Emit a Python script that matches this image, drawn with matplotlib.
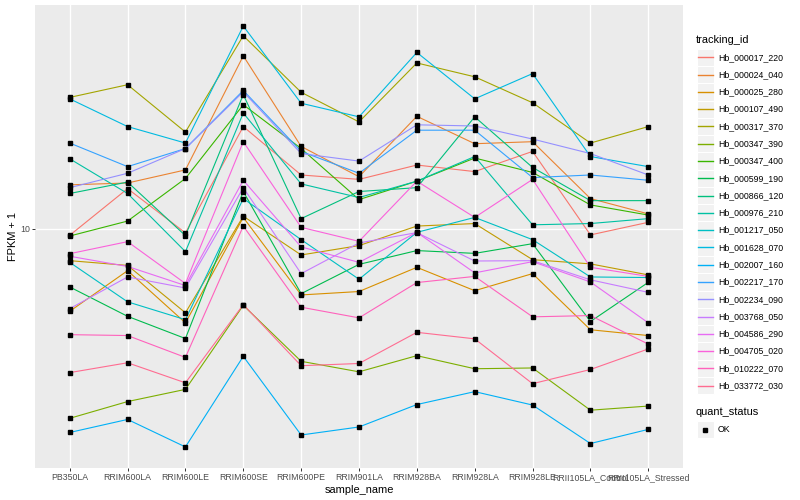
import matplotlib.pyplot as plt
from matplotlib.patches import Rectangle
from matplotlib.ticker import FixedLocator, NullLocator

plt.rcParams['font.family'] = ['Liberation Sans', 'DejaVu Sans']

samples = ['PB350LA', 'RRIM600LA', 'RRIM600LE', 'RRIM600SE', 'RRIM600PE', 'RRIM901LA',
           'RRIM928BA', 'RRIM928LA', 'RRIM928LE', 'RRII105LA_Control', 'RRII105LA_Stressed']

tracking_ids = ['Hb_000017_220', 'Hb_000024_040', 'Hb_000025_280', 'Hb_000107_490',
                'Hb_000317_370', 'Hb_000347_390', 'Hb_000347_400', 'Hb_000599_190',
                'Hb_000866_120', 'Hb_000976_210', 'Hb_001217_050', 'Hb_001628_070',
                'Hb_002007_160', 'Hb_002217_170', 'Hb_002234_090', 'Hb_003768_050',
                'Hb_004586_290', 'Hb_004705_020', 'Hb_010222_070', 'Hb_033772_030']

# FPKM + 1 per sample, one list per gene
hb_000017_220 = [9.50, 13.6, 9.68, 21.9, 15.1, 14.6, 16.3, 15.5, 18.1, 9.53, 10.5]
hb_000024_040 = [14.0, 14.2, 15.7, 37.7, 18.8, 14.9, 23.7, 19.2, 19.5, 12.6, 11.2]
hb_000025_280 = [5.30, 7.24, 4.85, 10.9, 6.01, 6.17, 7.43, 6.21, 7.08, 4.60, 4.40]
hb_000107_490 = [7.82, 7.54, 5.24, 11.0, 8.17, 8.78, 10.2, 10.4, 7.88, 7.63, 7.01]
hb_000317_370 = [27.4, 30.2, 21.0, 44.0, 28.5, 22.7, 35.7, 32.1, 26.3, 19.3, 21.9]
hb_000347_390 = [2.33, 2.65, 2.91, 5.55, 3.61, 3.33, 3.77, 3.41, 3.43, 2.48, 2.56]
hb_000347_400 = [9.45, 10.6, 14.7, 25.9, 18.5, 12.5, 14.4, 17.2, 15.4, 12.0, 11.1]
hb_000599_190 = [6.39, 5.10, 4.30, 13.3, 6.07, 7.60, 8.45, 8.27, 8.91, 4.90, 6.62]
hb_000866_120 = [13.1, 14.3, 9.48, 28.0, 10.8, 13.3, 13.7, 23.6, 16.0, 12.4, 12.4]
hb_000976_210 = [17.1, 13.1, 8.38, 24.3, 14.1, 12.7, 14.4, 17.4, 10.3, 10.4, 10.8]
hb_001217_050 = [7.72, 5.70, 4.97, 12.6, 9.19, 6.78, 9.72, 10.9, 9.19, 6.90, 6.87]
hb_001628_070 = [27.1, 21.9, 19.3, 47.4, 26.2, 23.6, 38.7, 27.1, 32.9, 17.4, 16.1]
hb_002007_160 = [2.09, 2.31, 1.87, 3.75, 2.05, 2.18, 2.59, 2.86, 2.58, 1.92, 2.14]
hb_002217_170 = [19.3, 16.1, 18.5, 28.9, 18.1, 15.3, 21.3, 21.3, 14.8, 15.1, 14.5]
hb_002234_090 = [13.7, 15.3, 18.5, 28.6, 17.8, 16.8, 22.2, 22.0, 19.9, 17.8, 15.1]
hb_003768_050 = [5.41, 6.90, 6.34, 13.7, 7.08, 8.96, 9.70, 7.80, 7.82, 6.75, 6.13]
hb_004586_290 = [8.09, 7.48, 6.46, 14.5, 8.69, 7.72, 9.72, 7.12, 7.76, 6.64, 4.85]
hb_004705_020 = [8.25, 9.05, 6.56, 19.5, 10.1, 9.07, 14.4, 10.9, 14.6, 7.43, 6.93]
hb_010222_070 = [4.43, 4.40, 3.72, 10.2, 5.47, 5.04, 6.61, 6.93, 5.08, 5.13, 4.12]
hb_033772_030 = [3.31, 3.57, 3.06, 5.58, 3.49, 3.55, 4.51, 4.29, 3.04, 3.39, 3.97]

series = [hb_000017_220, hb_000024_040, hb_000025_280, hb_000107_490, hb_000317_370,
          hb_000347_390, hb_000347_400, hb_000599_190, hb_000866_120, hb_000976_210,
          hb_001217_050, hb_001628_070, hb_002007_160, hb_002217_170, hb_002234_090,
          hb_003768_050, hb_004586_290, hb_004705_020, hb_010222_070, hb_033772_030]

colors = ['#F8766D', '#EA8331', '#D89000', '#C09B00', '#A3A500', '#7CAE00', '#39B600',
          '#00BB4E', '#00BF7D', '#00C1A3', '#00BFC4', '#00BAE0', '#00B0F6', '#35A2FF',
          '#9590FF', '#C77CFF', '#E76BF3', '#FA62DB', '#FF62BC', '#FF6C91']

fig = plt.figure(figsize=(8, 5), dpi=100)
ax = fig.add_axes([35 / 800, 32 / 500, 648 / 800, 463 / 500])
ax.set_facecolor('#EBEBEB')
for s in ax.spines.values():
    s.set_visible(False)

x = list(range(len(samples)))
for vals, c in zip(series, colors):
    ax.plot(x, vals, color=c, lw=0.8, zorder=2)
for vals in series:
    ax.plot(x, vals, ls='none', marker='s', ms=2.2, color='black', zorder=3)

ax.set_yscale('log')
lo = min(min(v) for v in series)
hi = max(max(v) for v in series)
span = (hi / lo) ** 0.05
ax.set_ylim(lo / span, hi * span)
ax.set_xlim(-0.6, len(samples) - 0.4)

ax.yaxis.set_major_locator(FixedLocator([10]))
ax.yaxis.set_minor_locator(NullLocator())
ax.set_yticklabels(['10'])
ax.set_xticks(x)
ax.set_xticklabels(samples)
ax.grid(True, color='white', lw=1.0, zorder=0)
ax.set_axisbelow(True)
ax.tick_params(axis='both', length=2.0, width=0.7, color='#333333',
               labelsize=6.3, labelcolor='#4D4D4D', pad=1.6)

ax.set_xlabel('sample_name', fontsize=7.9, labelpad=2)
ax.set_ylabel('FPKM + 1', fontsize=7.9, labelpad=1.2)

# legend drawn in pixel coordinates
lax = fig.add_axes([0, 0, 1, 1])
lax.set_xlim(0, 800)
lax.set_ylim(500, 0)
lax.axis('off')

lax.text(696, 40, 'tracking_id', fontsize=7.9, va='center', ha='left')
key = 17.28
for i, (name, c) in enumerate(zip(tracking_ids, colors)):
    yc = 57.3 + i * key
    lax.add_patch(Rectangle((696.5, yc - key / 2), key, key, fc='#F2F2F2', ec='white', lw=0.8))
    lax.plot([698, 712.5], [yc, yc], color=c, lw=1.0)
    lax.text(718, yc, name, fontsize=6.3, va='center', ha='left')

lax.text(696, 412, 'quant_status', fontsize=7.9, va='center', ha='left')
lax.add_patch(Rectangle((696.5, 429.5 - key / 2), key, key, fc='#F2F2F2', ec='white', lw=0.8))
lax.plot([705.2], [429.5], marker='s', ms=2.2, color='black', ls='none')
lax.text(718, 429.5, 'OK', fontsize=6.3, va='center', ha='left')

fig.savefig('out.png', dpi=100)
